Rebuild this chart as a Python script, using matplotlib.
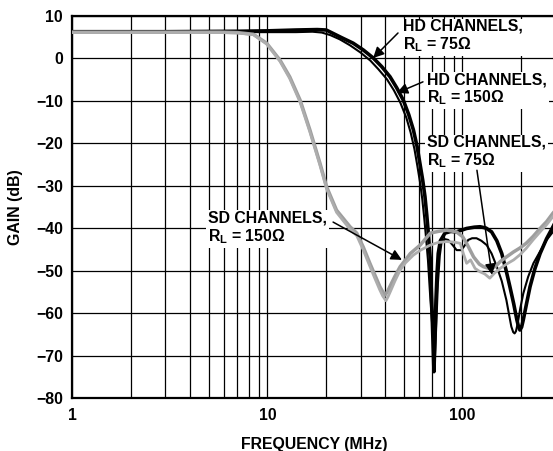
import numpy as np
import matplotlib
matplotlib.use('Agg')
import matplotlib.pyplot as plt
from matplotlib.ticker import FixedLocator, NullFormatter

plt.rcParams['font.family'] = ['Liberation Sans', 'DejaVu Sans']
plt.rcParams['font.weight'] = 'bold'
plt.rcParams['axes.labelweight'] = 'bold'
plt.rcParams['font.size'] = 11.4
plt.rcParams['mathtext.fontset'] = 'custom'
plt.rcParams['mathtext.rm'] = 'Liberation Sans:bold'
plt.rcParams['mathtext.it'] = 'Liberation Sans:bold'
plt.rcParams['mathtext.bf'] = 'Liberation Sans:bold'

# HD channels, RL = 75 ohm (thick black)
hd75_freq = [1, 3, 7, 10, 14, 18, 20, 21.7, 24, 27.5, 31, 34.9, 38.5, 42.5, 46, 49.7, 53, 56,
             58.5, 60.5, 62.5, 64.2, 65.6, 66.8, 68.3, 69.5, 70.5, 71.4, 72.2, 73.1, 74, 75.1,
             77, 81.3, 87, 93.3, 105, 115, 123, 132, 141, 150, 159, 167, 175, 183, 190, 194,
             197, 201, 205, 213, 222, 235, 250, 270, 291, 300]
hd75_gain = [6.2, 6.2, 6.3, 6.4, 6.6, 6.7, 6.6, 5.8, 4.8, 3.5, 1.9, 0, -2.0, -4.4, -7.0, -9.9,
             -13.3, -16.9, -20.8, -24.8, -28.7, -32.6, -37.0, -41.2, -47, -57, -66, -73.8, -66,
             -57, -51, -46, -43, -41.2, -40.8, -40.9, -40.1, -39.8, -39.7, -40.0, -40.9, -43,
             -46, -49.8, -53.8, -57.8, -61.6, -63.3, -64.0, -63.3, -61.6, -57.8, -53.8, -49.6,
             -46, -42.5, -39.7, -38.5]

# HD channels, RL = 150 ohm (thin black)
hd150_freq = [1, 3, 7, 10, 14, 17, 19, 21, 23.5, 26.5, 30, 33.7, 37, 41, 44.5, 48, 51.5, 54.2,
              56.7, 58.7, 60.6, 62.2, 63.6, 64.8, 66.5, 68.5, 70.5, 72.3, 73.5, 74.8, 76.5, 78.2,
              81, 84.5, 89, 93.3, 98.8, 103, 107, 112, 118, 125, 133, 141, 150, 159, 168, 173,
              178, 182, 185, 188, 192, 198, 205, 217, 231, 250, 270, 291, 300]
hd150_gain = [6.1, 6.1, 6.1, 6.1, 6.1, 6.2, 6.0, 5.4, 4.4, 3.0, 1.3, -0.6, -2.6, -5.0, -7.6,
              -10.5, -14, -17.5, -21.4, -25.4, -29.3, -33.2, -37.5, -41.5, -47.5, -57, -65, -70,
              -62, -53, -46.5, -43.2, -42.6, -42.8, -44, -45.2, -45.2, -44, -42.8, -42.4, -42.4,
              -43, -44, -46, -49.1, -52.5, -57, -60.2, -63.2, -64.5, -64.8, -64.3, -62.4, -58.8,
              -55.4, -51.5, -48.3, -45.5, -42.8, -40.9, -40]

# SD channels, RL = 150 ohm (grey)
sd150_freq = [1, 3, 5.7, 7, 8.46, 9.9, 11.6, 13.0, 14.7, 16.5, 18.6, 20.1, 22.6, 26.5, 28.7, 31,
              33.5, 35.5, 37.7, 39, 40, 41.2, 42.4, 45, 47.9, 51, 54, 60.7, 68.4, 75, 83, 93, 100,
              105, 114, 122, 128, 134, 141, 148, 156, 168, 183, 197, 212, 230, 250, 270, 291, 300]
sd150_gain = [6.1, 6.1, 6.1, 6.0, 5.6, 3.5, -0.5, -4.4, -9.9, -16.9, -24.8, -30.3, -35.8, -39.7,
              -41.2, -44.5, -48.3, -51, -53.8, -55, -55.8, -55, -53.8, -51.4, -49.1, -47.5, -46,
              -44, -41.2, -40.8, -40.5, -40.9, -42, -43.6, -46.8, -48.5, -49.1, -49.4, -49.5, -49,
              -47.9, -46.8, -45.6, -44.7, -43.6, -42, -40.1, -38.5, -36.5, -35.8]

# SD channels, RL = 75 ohm (lighter grey)
sd75_freq = [1, 3, 5.7, 7, 8.46, 9.9, 11.6, 13.0, 14.7, 16.5, 18.6, 20.1, 22.6, 26.5, 28.7, 31,
             33.5, 35.5, 37.7, 39, 40.5, 41.5, 43, 45, 47.9, 51, 55.9, 61, 68.4, 75, 83, 90, 97.4,
             101, 105, 110, 116, 123, 130, 138, 146, 156, 168, 183, 197, 212, 230, 250, 270, 291,
             300]
sd75_gain = [6.0, 6.0, 6.0, 5.9, 5.5, 3.3, -0.8, -4.8, -10.4, -17.4, -25.3, -30.8, -36.3, -40.3,
             -41.8, -45.2, -49, -51.8, -54.6, -56, -57.1, -56.2, -54.6, -52.5, -49.9, -48.2,
             -46.4, -45.2, -44, -43.4, -43.2, -43.3, -43.6, -46, -48.3, -47.5, -49.5, -50.3,
             -50.8, -51.8, -50.6, -49.5, -48.5, -47.5, -46.3, -44.8, -42.8, -40.9, -39.2, -37.3,
             -36.6]

y_ticks = list(range(-80, 11, 10))
x_major = [1, 10, 100]
x_labels = ['1', '10', '100']

fig = plt.figure(figsize=(5.53, 4.51), dpi=100)
ax = fig.add_axes([0.131, 0.1175, 0.8736, 0.848])

ax.plot(hd75_freq, hd75_gain, color='black', lw=2.6, zorder=3)
ax.plot(hd150_freq, hd150_gain, color='black', lw=1.5, zorder=3)
ax.plot(sd150_freq, sd150_gain, color='#9e9e9e', lw=2.5, zorder=4)
ax.plot(sd75_freq, sd75_gain, color='#adadad', lw=2.0, zorder=4)

ax.set_xscale('log')
ax.set_xlim(1, 300)
ax.set_ylim(-80, 10)
ax.set_yticks(y_ticks)
ax.xaxis.set_major_locator(FixedLocator(x_major))
ax.set_xticklabels(x_labels)
minors = [m * d for d in (1, 10, 100) for m in range(2, 10)]
ax.xaxis.set_minor_locator(FixedLocator(minors))
ax.xaxis.set_minor_formatter(NullFormatter())
ax.grid(True, which='both', color='black', lw=0.9, zorder=1)
ax.tick_params(which='both', length=0)
ax.tick_params(axis='y', pad=7)
ax.tick_params(axis='x', pad=7)
for s in ('left', 'bottom', 'top'):
    ax.spines[s].set_linewidth(1.6)
ax.spines['right'].set_visible(False)

ax.set_xlabel('FREQUENCY (MHz)', labelpad=10)
ax.set_ylabel('GAIN (dB)', labelpad=9)

box = dict(boxstyle='square,pad=0.12', fc='white', ec='none')
arrow = dict(arrowstyle='-|>', color='black', lw=1.1, mutation_scale=16, shrinkA=0, shrinkB=0)

labels = [
    ('HD CHANNELS,\nR$_\\mathrm{L}$ = 75Ω', (49.5, 9.2), (46.7, 5.9), (34.8, 0.0)),
    ('HD CHANNELS,\nR$_\\mathrm{L}$ = 150Ω', (65.8, -3.3), (62.7, -5.6), (46.1, -8.2)),
    ('SD CHANNELS,\nR$_\\mathrm{L}$ = 75Ω', (65.8, -18.1), (118.6, -26.4), (141.6, -51.0)),
    ('SD CHANNELS,\nR$_\\mathrm{L}$ = 150Ω', (4.95, -35.9), (21.7, -38.6), (48.9, -47.5)),
]
for text, pos, tail, tip in labels:
    ax.annotate('', xy=tip, xytext=tail, arrowprops=arrow, zorder=6)
    ax.text(pos[0], pos[1], text, ha='left', va='top', bbox=box, zorder=5, linespacing=1.1)

fig.savefig('out.png', dpi=100)
